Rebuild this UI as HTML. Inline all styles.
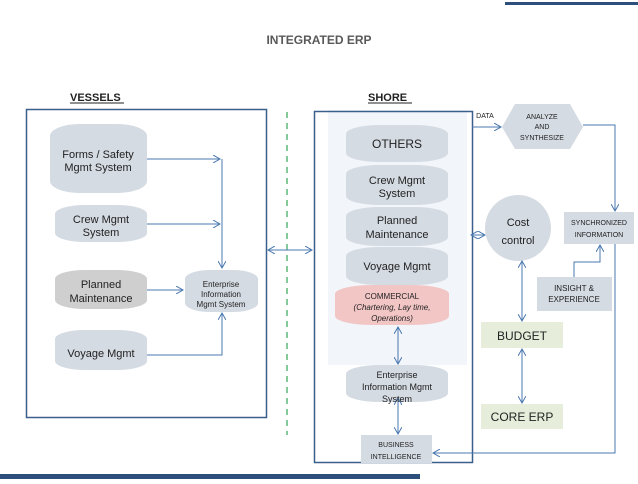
<!DOCTYPE html>
<html><head><style>
body{margin:0;width:638px;height:479px;background:#fff;overflow:hidden;font-family:"Liberation Sans",sans-serif}
</style></head><body>
<svg width="638" height="479" viewBox="0 0 638 479" xmlns="http://www.w3.org/2000/svg" font-family="Liberation Sans, sans-serif">
<defs>
<marker id="a" markerWidth="8" markerHeight="8" refX="7" refY="4" orient="auto-start-reverse" markerUnits="userSpaceOnUse"><path d="M0,0 L7,4 L0,8" fill="none" stroke="#4a78b0" stroke-width="1"/></marker>
</defs>
<rect x="505" y="2" width="133" height="3" fill="#2c4f7c"/>
<rect x="0" y="474" width="420" height="5" fill="#2c4f7c"/>
<text x="319" y="44" text-anchor="middle" font-size="12" font-weight="bold" fill="#595959">INTEGRATED ERP</text>
<text x="70" y="101" font-size="11" font-weight="bold" fill="#222">VESSELS</text>
<line x1="70" y1="103" x2="124" y2="103" stroke="#222"/>
<text x="368" y="101" font-size="11" font-weight="bold" fill="#222">SHORE</text>
<line x1="368" y1="103" x2="412" y2="103" stroke="#222"/>
<rect x="26.5" y="109.5" width="240" height="308" fill="none" stroke="#3b5f8c" stroke-width="1.5"/>
<line x1="287" y1="112" x2="287" y2="435" stroke="#5cb87a" stroke-width="1.5" stroke-dasharray="6,5"/>
<rect x="328" y="110" width="139" height="255" fill="#f2f5f9"/>
<rect x="314.5" y="111.5" width="158" height="351" fill="none" stroke="#3b5f8c" stroke-width="1.5"/>
<g fill="#d5dbe3">
<rect x="50" y="124" width="97" height="69" rx="30" ry="12"/>
<rect x="55" y="205" width="92" height="37" rx="30" ry="9"/>
<rect x="55" y="270" width="92" height="39" rx="30" ry="9" fill="#cfcfcf"/>
<rect x="55" y="330" width="92" height="40" rx="30" ry="9"/>
<rect x="185" y="270" width="73" height="42" rx="25" ry="9"/>
<rect x="346" y="125" width="102" height="37" rx="34" ry="9"/>
<rect x="346" y="165" width="102" height="40" rx="34" ry="9"/>
<rect x="346" y="207" width="102" height="39" rx="34" ry="9"/>
<rect x="346" y="247" width="102" height="38" rx="34" ry="9"/>
<rect x="335" y="285" width="114" height="40" rx="38" ry="9" fill="#f3c6c6"/>
<rect x="346" y="365" width="102" height="37" rx="34" ry="9"/>
<rect x="361" y="435" width="71" height="28"/>
<polygon points="502,127 515,104 570,104 583,127 570,149 515,149"/>
<rect x="564" y="212" width="70" height="32"/>
<circle cx="518" cy="228" r="33"/>
<rect x="537" y="277" width="75" height="34"/>
</g>
<rect x="481" y="322" width="82" height="26" fill="#e6eedb"/>
<rect x="481" y="404" width="82" height="25" fill="#e6eedb"/>
<g fill="none" stroke="#4a78b0" stroke-width="1">
<line x1="147" y1="159" x2="220" y2="159" marker-end="url(#a)"/>
<line x1="147" y1="224" x2="220" y2="224" marker-end="url(#a)"/>
<line x1="222" y1="159" x2="222" y2="268" marker-end="url(#a)"/>
<line x1="147" y1="290" x2="183" y2="290" marker-end="url(#a)"/>
<polyline points="147,355 222,355 222,313" marker-end="url(#a)"/>
<line x1="268" y1="250" x2="312" y2="250" marker-start="url(#a)" marker-end="url(#a)"/>
<line x1="398" y1="327" x2="398" y2="364" marker-start="url(#a)" marker-end="url(#a)"/>
<line x1="398" y1="398" x2="398" y2="434" marker-start="url(#a)" marker-end="url(#a)"/>
<line x1="472" y1="127" x2="501" y2="127" marker-end="url(#a)"/>
<polyline points="583,125 615,125 615,211" marker-end="url(#a)"/>
<line x1="471" y1="235" x2="485" y2="235" marker-start="url(#a)" marker-end="url(#a)"/>
<polyline points="574,277 574,262 600,262 600,245" marker-end="url(#a)"/>
<line x1="522" y1="261" x2="522" y2="321" marker-start="url(#a)" marker-end="url(#a)"/>
<line x1="522" y1="349" x2="522" y2="403" marker-start="url(#a)" marker-end="url(#a)"/>
<polyline points="615,244 615,453 433,453" marker-end="url(#a)"/>
</g>
<g fill="#222" text-anchor="middle" font-size="11">
<text x="98" y="158">Forms / Safety</text><text x="98" y="171">Mgmt System</text>
<text x="101" y="223">Crew Mgmt</text><text x="101" y="236">System</text>
<text x="101" y="288">Planned</text><text x="101" y="302">Maintenance</text>
<text x="101" y="357">Voyage Mgmt</text>
<text x="221" y="287" font-size="8">Enterprise</text><text x="221" y="297" font-size="8">Information</text><text x="221" y="307" font-size="8">Mgmt System</text>
<text x="397" y="148" font-size="12">OTHERS</text>
<text x="397" y="184">Crew Mgmt</text><text x="397" y="197">System</text>
<text x="397" y="224">Planned</text><text x="397" y="238">Maintenance</text>
<text x="397" y="270">Voyage Mgmt</text>
<text x="392" y="299" font-size="8">COMMERCIAL</text><text x="392" y="310" font-size="8" font-style="italic">(Chartering, Lay time,</text><text x="392" y="321" font-size="8" font-style="italic">Operations)</text>
<text x="397" y="378" font-size="9">Enterprise</text><text x="397" y="390" font-size="9">Information Mgmt</text><text x="397" y="402" font-size="9">System</text>
<text x="396" y="447" font-size="7">BUSINESS</text><text x="396" y="459" font-size="7">INTELLIGENCE</text>
<text x="485" y="118" font-size="7">DATA</text>
<text x="542" y="119" font-size="7">ANALYZE</text><text x="542" y="129" font-size="7">AND</text><text x="542" y="140" font-size="7">SYNTHESIZE</text>
<text x="599" y="225" font-size="7">SYNCHRONIZED</text><text x="599" y="237" font-size="7">INFORMATION</text>
<text x="518" y="226">Cost</text><text x="518" y="244">control</text>
<text x="574" y="291" font-size="8">INSIGHT &amp;</text><text x="574" y="302" font-size="8">EXPERIENCE</text>
<text x="522" y="340" font-size="12">BUDGET</text>
<text x="522" y="421" font-size="12">CORE ERP</text>
</g>
</svg>
</body></html>
